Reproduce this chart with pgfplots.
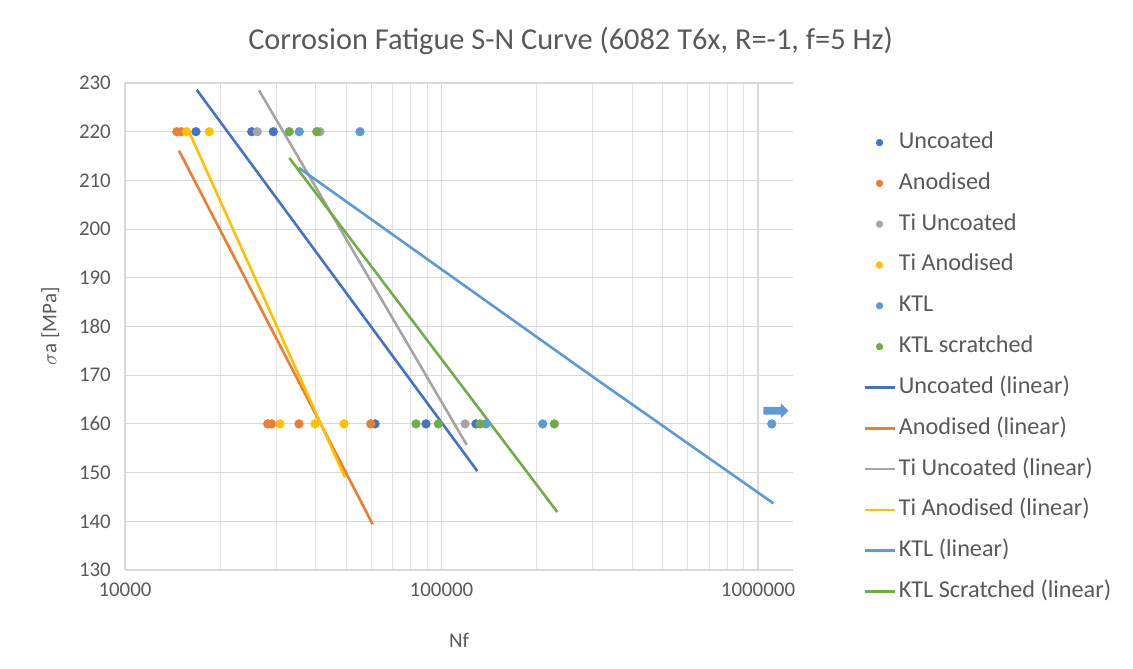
\documentclass[border=0pt]{standalone}
\usepackage{fontspec}
\setmainfont{Carlito}
\usepackage{pgfplots}
\pgfplotsset{compat=1.18}
\usetikzlibrary{shapes.arrows}

\definecolor{cUnc}{HTML}{4472C4}
\definecolor{cAno}{HTML}{ED7D31}
\definecolor{cTiU}{HTML}{A5A5A5}
\definecolor{cTiA}{HTML}{FFC000}
\definecolor{cKTL}{HTML}{5B9BD5}
\definecolor{cKTS}{HTML}{70AD47}
\definecolor{gridc}{HTML}{D9D9D9}
\definecolor{txt}{HTML}{595959}

\begin{document}
\begin{tikzpicture}[x=1bp,y=1bp]
\useasboundingbox (-125,-99) rectangle (1008,570);
\begin{axis}[
  at={(0,0)}, anchor=south west,
  scale only axis, width=668bp, height=487bp,
  xmode=log, xmin=1e4, xmax=1.29e6, ymin=130, ymax=230,
  ytick={130,140,...,230},
  xtick={1e4,1e5,1e6}, xticklabels={10000,100000,1000000},
  minor xtick={2e4,3e4,4e4,5e4,6e4,7e4,8e4,9e4,2e5,3e5,4e5,5e5,6e5,7e5,8e5,9e5},
  grid=both,
  major grid style={draw=gridc, line width=1.1bp},
  minor grid style={draw=gridc!75, line width=0.9bp},
  axis line style={draw=none},
  major tick length=0pt, minor tick length=0pt,
  /pgf/number format/assume math mode=true,
  ticklabel style={font=\fontsize{21}{25}\selectfont, text=txt},
  yticklabel style={inner sep=0pt, xshift=-14bp},
  xticklabel style={inner sep=0pt, yshift=-13bp},
  xlabel={Nf},
  ylabel={$\sigma$a [MPa]},
  label style={font=\fontsize{21}{25}\selectfont, text=txt},
  xlabel style={at={(axis description cs:0.5,-0.1437)}, anchor=center},
  ylabel style={at={(axis description cs:-0.112,0.5)}, anchor=center, rotate=0},
  title={Corrosion Fatigue S-N Curve (6082 T6x, R=-1, f=5 Hz)},
  title style={at={(axis description cs:0.6669,1.0737)}, anchor=center,
    font=\fontsize{30.5}{36}\selectfont, text=txt},
  clip=true,
  legend style={at={(axis description cs:1.1048,0.9006)}, anchor=north west,
    draw=none, fill=none, inner xsep=0pt, inner ysep=0pt,
    font=\fontsize{24.3}{28}\selectfont, text=txt,
    row sep=18.8bp,
    nodes={inner sep=0pt, text height=17bp, text depth=5bp},
    cells={anchor=west}},
  legend image code/.code={%
    \draw[mark repeat=2,mark phase=2,#1]
      plot coordinates {(0bp,0bp)(15bp,0bp)(30bp,0bp)};
    \path (33bp,0bp);},
  legend image post style={mark size=3.4bp},
]

% test results: stress amplitude vs. cycles to failure
\addplot[only marks, mark=*, mark size=4.4bp, color=cUnc]
  coordinates {(16760,220) (25140,220) (29420,220)
               (61650,160) (89330,160) (128500,160)};
\addlegendentry{Uncoated}
\addplot[only marks, mark=*, mark size=4.4bp, color=cAno]
  coordinates {(14580,220) (15060,220)
               (28240,160) (29070,160) (35460,160) (59750,160)};
\addlegendentry{Anodised}
\addplot[only marks, mark=*, mark size=4.4bp, color=cTiU]
  coordinates {(26170,220) (41300,220) (118700,160)};
\addlegendentry{Ti Uncoated}
\addplot[only marks, mark=*, mark size=4.4bp, color=cTiA]
  coordinates {(15650,220) (18460,220)
               (30890,160) (39840,160) (49190,160)};
\addlegendentry{Ti Anodised}
\addplot[only marks, mark=*, mark size=4.4bp, color=cKTL]
  coordinates {(35530,220) (55270,220)
               (138200,160) (208800,160) (1105000,160)};
\addlegendentry{KTL}
\addplot[only marks, mark=*, mark size=4.4bp, color=cKTS]
  coordinates {(33040,220) (40340,220)
               (83060,160) (97700,160) (132300,160) (227200,160)};
\addlegendentry{KTL scratched}

% linear trend lines
\addplot[cUnc, line width=2.6bp, no marks] coordinates {(16850,228.6) (129800,150.3)};
\addlegendentry{Uncoated (linear)}
\addplot[cAno, line width=2.6bp, no marks] coordinates {(14810,216.1) (60600,139.4)};
\addlegendentry{Anodised (linear)}
\addplot[cTiU, line width=2.6bp, no marks] coordinates {(26510,228.5) (120100,155.7)};
\addlegendentry{Ti Uncoated (linear)}
\addplot[cTiA, line width=2.6bp, no marks] coordinates {(15800,220.5) (49560,149.0)};
\addlegendentry{Ti Anodised (linear)}
\addplot[cKTL, line width=2.6bp, no marks] coordinates {
  (35400,212.6) (129200,186.6) (301700,169.6) (1117600,143.7)};
\addlegendentry{KTL (linear)}
\addplot[cKTS, line width=2.6bp, no marks] coordinates {(33040,214.6) (232200,141.9)};
\addlegendentry{KTL Scratched (linear)}

% run-out marker
\node[single arrow, fill=cKTL, draw=none, inner sep=3.5bp,
  minimum height=25bp, minimum width=15bp, single arrow head extend=3.5bp]
  at (axis cs:1.123e6,162.7) {};
\end{axis}
\end{tikzpicture}
\end{document}
